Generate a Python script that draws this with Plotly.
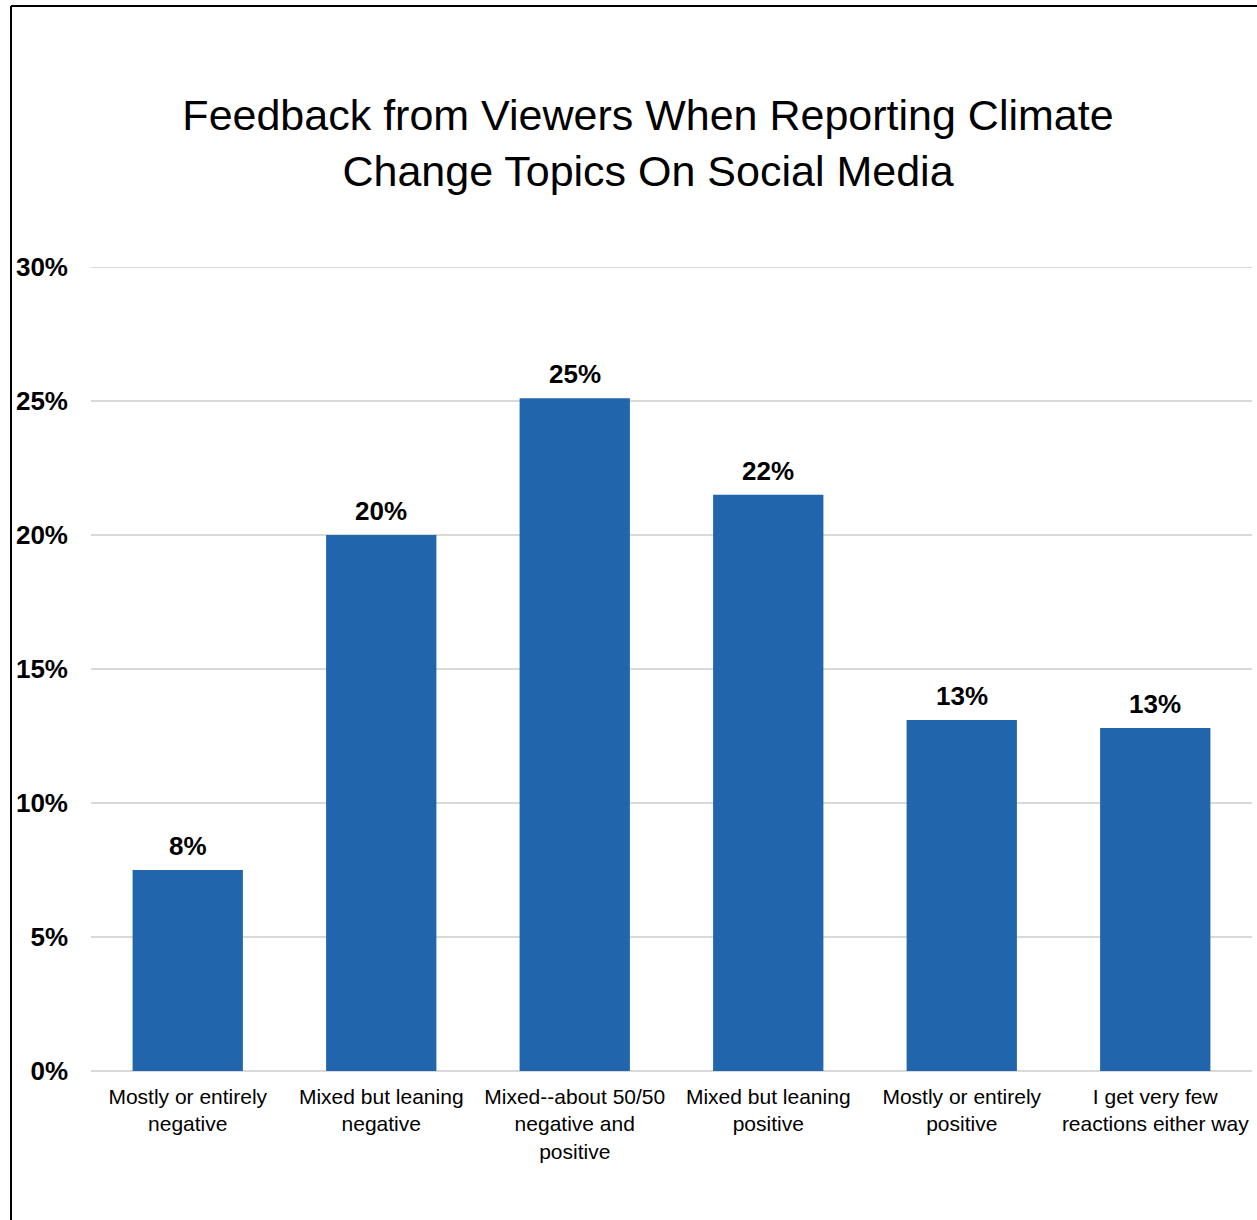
import plotly.graph_objects as go

# Survey responses: share of respondents per feedback category
categories = [
    "Mostly or entirely<br>negative",
    "Mixed but leaning<br>negative",
    "Mixed--about 50/50<br>negative and<br>positive",
    "Mixed but leaning<br>positive",
    "Mostly or entirely<br>positive",
    "I get very few<br>reactions either way",
]
shares = [7.5, 20.0, 25.1, 21.5, 13.1, 12.8]
tick_values = [0, 5, 10, 15, 20, 25, 30]
tick_labels = ["0%", "5%", "10%", "15%", "20%", "25%", "30%"]

W, H = 1257, 1220
ML, MR, MT, MB = 91, 5, 267, 149
BAR_COLOR = "#2166ac"
GRID = "#d9d9d9"
FONT = "Liberation Sans, Arial, sans-serif"

fig = go.Figure(
    go.Bar(
        x=categories,
        y=shares,
        marker=dict(color=BAR_COLOR, line=dict(width=0)),
        hoverinfo="skip",
    )
)

# Value labels above each bar
for cat, val in zip(categories, shares):
    fig.add_annotation(
        x=cat, y=val, text=f"<b>{val:.0f}%</b>",
        showarrow=False, yanchor="bottom", yshift=7,
        font=dict(family=FONT, size=26, color="black"),
    )

# Top gridline at the upper end of the value axis
fig.add_shape(type="line", xref="paper", yref="y", x0=0, x1=1,
              y0=tick_values[-1], y1=tick_values[-1],
              line=dict(color=GRID, width=2), layer="below")

# Frame line along the left and top edges
pw, ph = W - ML - MR, H - MT - MB
x_left = (11 - ML) / pw
y_top = (H - MB - 6) / ph
y_bot = (H - MB - H) / ph
x_right = (W - ML) / pw
fig.add_shape(type="line", xref="paper", yref="paper",
              x0=x_left, x1=x_left, y0=y_bot, y1=y_top,
              line=dict(color="black", width=2))
fig.add_shape(type="line", xref="paper", yref="paper",
              x0=x_left, x1=x_right, y0=y_top, y1=y_top,
              line=dict(color="black", width=2))

fig.update_layout(
    width=W, height=H,
    margin=dict(l=ML, r=MR, t=MT, b=MB),
    paper_bgcolor="white", plot_bgcolor="white",
    bargap=0.43,
    showlegend=False,
    title=dict(
        text="Feedback from Viewers When Reporting Climate<br>Change Topics On Social Media",
        x=648 / W, xref="container", xanchor="center",
        y=1 - 130 / H, yref="container", yanchor="top",
        font=dict(family=FONT, size=43, color="black"),
    ),
    xaxis=dict(
        showgrid=False, showline=False, zeroline=False, ticks="",
        tickfont=dict(family=FONT, size=21, color="black"),
        ticklabelstandoff=11,
    ),
    yaxis=dict(
        range=[0, 30], tickvals=tick_values, ticktext=tick_labels,
        showgrid=True, gridcolor=GRID, gridwidth=2,
        zeroline=True, zerolinecolor=GRID, zerolinewidth=2,
        showline=False, ticks="",
        tickfont=dict(family=FONT, size=26, color="black", weight="bold"),
        ticklabelstandoff=22,
    ),
)

fig.write_html("out.html")
